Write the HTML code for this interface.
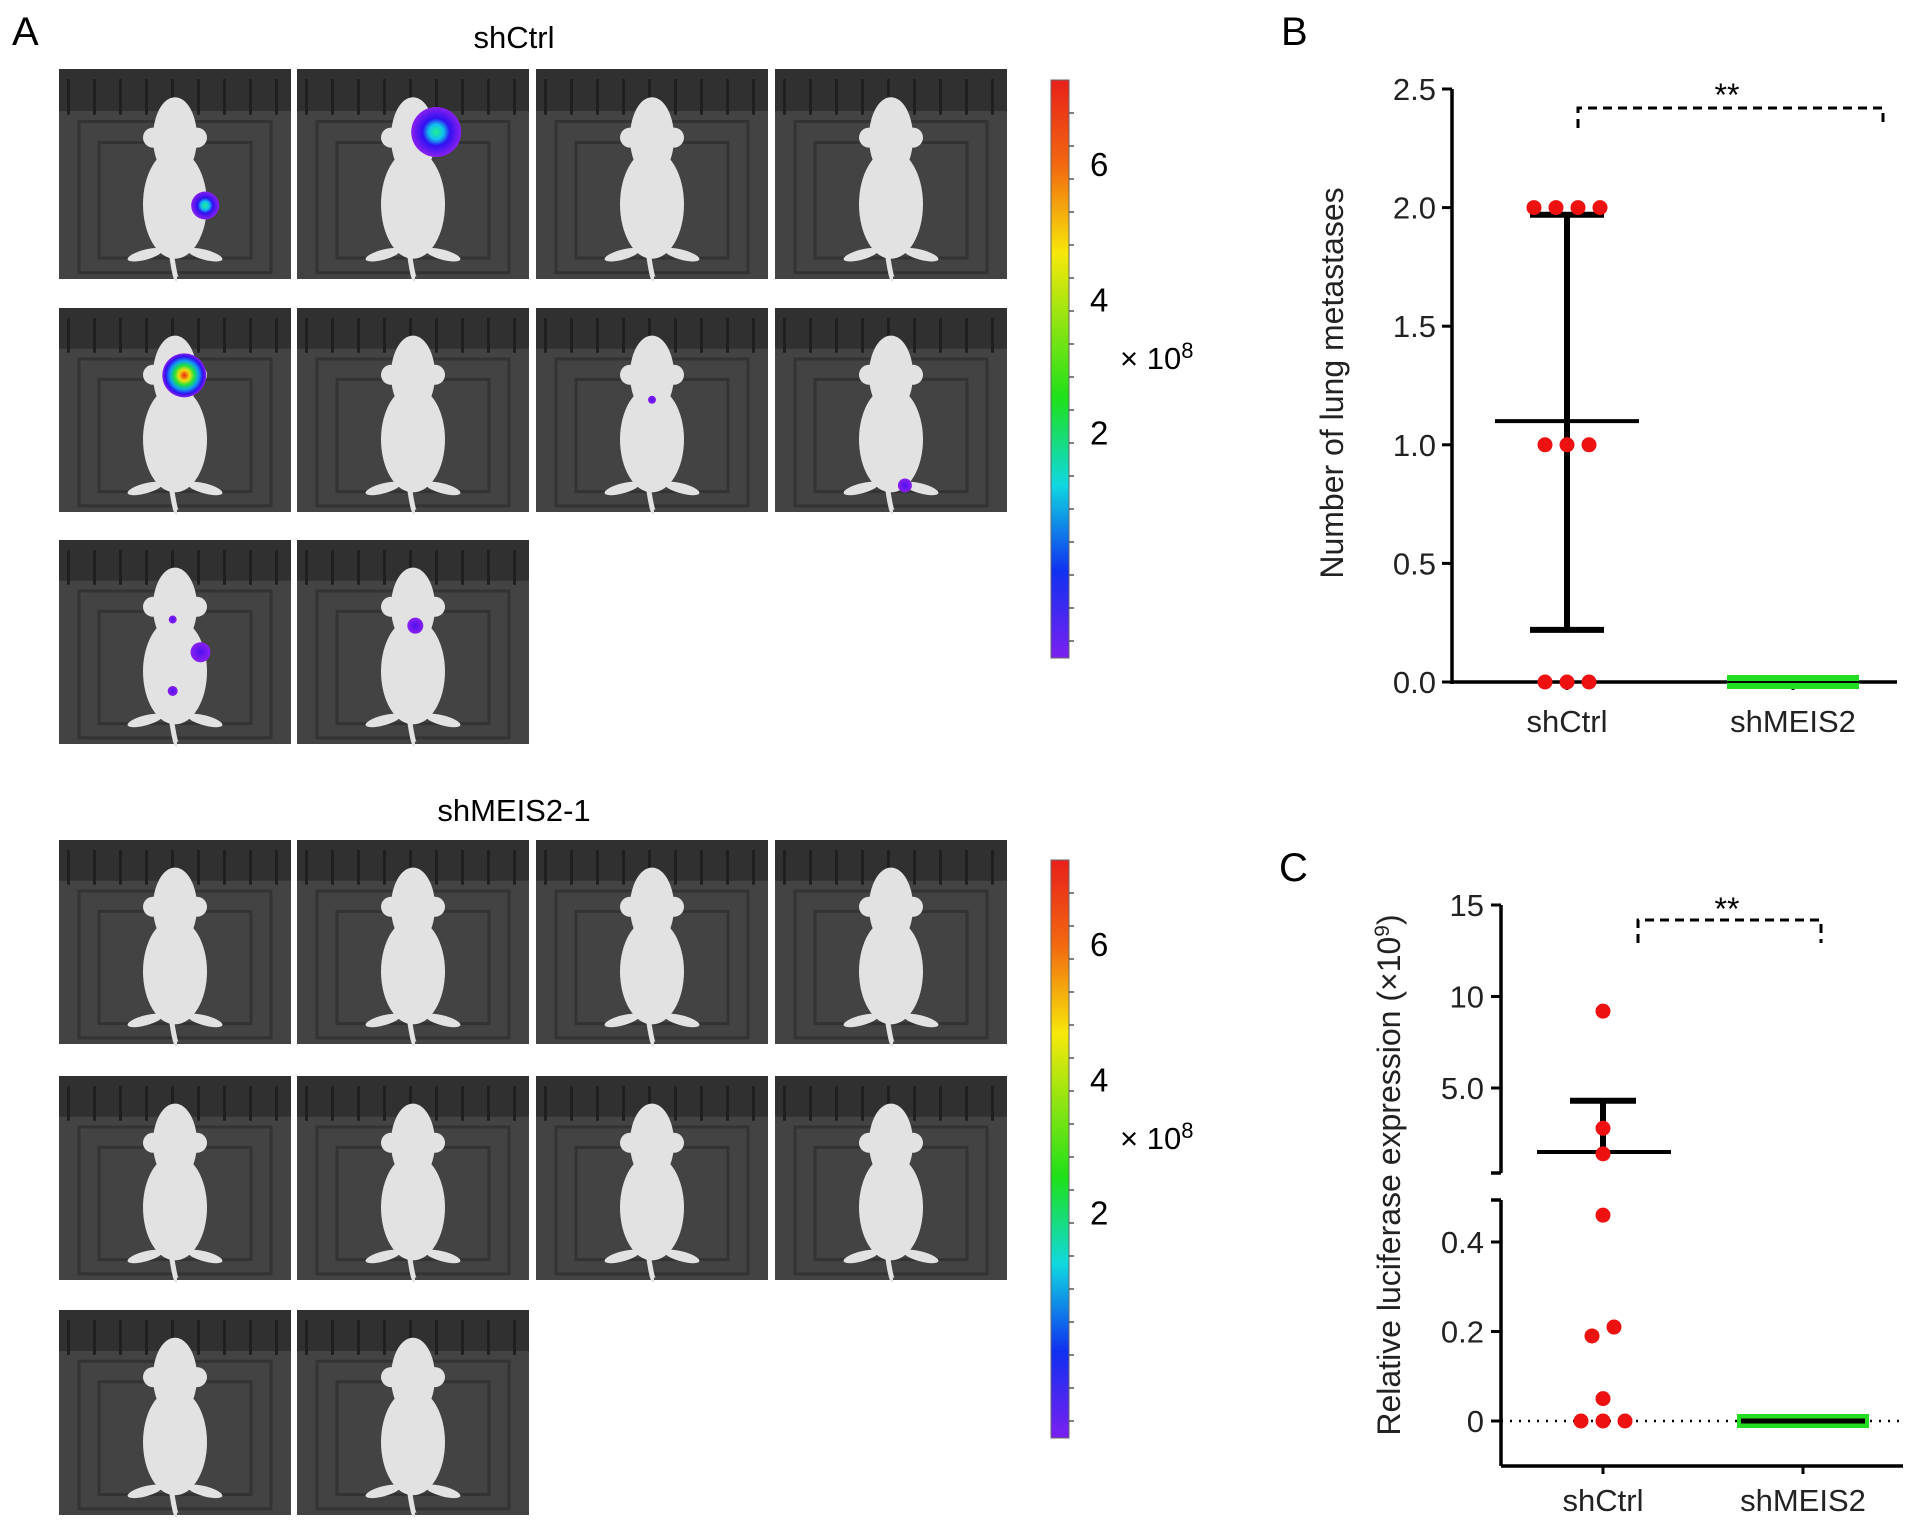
<!DOCTYPE html>
<html><head><meta charset="utf-8"><style>
html,body{margin:0;padding:0;background:#fff;}
svg{display:block;font-family:"Liberation Sans",Arial,sans-serif;}
</style></head><body>
<svg id="fig" width="1913" height="1525" viewBox="0 0 1913 1525" xmlns="http://www.w3.org/2000/svg">
<defs>
<linearGradient id="cbar" x1="0" y1="0" x2="0" y2="1">
<stop offset="0" stop-color="#e8201a"/><stop offset="0.15" stop-color="#f26a10"/><stop offset="0.3" stop-color="#f7e80a"/><stop offset="0.55" stop-color="#1ee01a"/><stop offset="0.7" stop-color="#10d8e0"/><stop offset="0.85" stop-color="#1030f0"/><stop offset="1" stop-color="#7a20f0"/>
</linearGradient>
<radialGradient id="sigA"><stop offset="0" stop-color="#20f090"/><stop offset="0.3" stop-color="#10c0f0"/><stop offset="0.55" stop-color="#3010f0"/><stop offset="1" stop-color="#8a20f0"/></radialGradient>
<radialGradient id="sigB"><stop offset="0" stop-color="#f02010"/><stop offset="0.25" stop-color="#f0e010"/><stop offset="0.45" stop-color="#20e040"/><stop offset="0.65" stop-color="#10a0f0"/><stop offset="0.85" stop-color="#3010f0"/><stop offset="1" stop-color="#8a20f0"/></radialGradient>
<radialGradient id="sigC"><stop offset="0" stop-color="#5010f0"/><stop offset="1" stop-color="#8a20f0"/></radialGradient>
</defs>
<g id="panelA"></g>
<g id="panelB"></g>
<g id="panelC"></g>
</svg>
<script>
// ---------- Panel B data ----------
const bCategories = ["shCtrl", "shMEIS2"];
const bCtrlValues = [2, 2, 2, 2, 1, 1, 1, 0, 0, 0];
const bCtrlOffsets = [-1.5, -0.5, 0.5, 1.5, -1, 0, 1, -1, 0, 1];
const bMeans = [1.1, 0];
const bErrLow = [0.22, 0];
const bErrHigh = [1.97, 0];
const bTicks = [0, 0.5, 1.0, 1.5, 2.0, 2.5];
const bTickLabels = ["0.0", "0.5", "1.0", "1.5", "2.0", "2.5"];
// ---------- Panel C data ----------
const cCategories = ["shCtrl", "shMEIS2"];
const cCtrlValues = [9.2, 2.8, 1.4, 0.46, 0.19, 0.21, 0.05, 0, 0, 0];
const cCtrlOffsets = [0, 0, 0, 0, -0.5, 0.5, 0, -1, 0, 1];
const cMeans = [1.5, 0];
const cSemHigh = [4.3, 0];
const cUpperTicks = [5, 10, 15];
const cUpperTickLabels = ["5.0", "10", "15"];
const cLowerTicks = [0, 0.2, 0.4];
const cLowerTickLabels = ["0", "0.2", "0.4"];

const NS = "http://www.w3.org/2000/svg";
function mk(parent, tag, attrs, text) {
  const e = document.createElementNS(NS, tag);
  for (const k in attrs) e.setAttribute(k, attrs[k]);
  if (text !== undefined) e.textContent = text;
  parent.appendChild(e);
  return e;
}
const TF = 31;

// ================= Panel A =================
const A = document.getElementById("panelA");
let t = mk(A, "text", {x: 12, y: 45, "font-size": 40}, "A");


t = mk(A, "text", {x: 514, y: 48, "font-size": 31, "text-anchor": "middle"}, "shCtrl");


t = mk(A, "text", {x: 514, y: 821, "font-size": 31, "text-anchor": "middle"}, "shMEIS2-1");



const colX = [59, 297, 536, 775];
const pw = 232;
const groups = [
  {rows: [[69, 210], [308, 204], [540, 204]], sig: true},
  {rows: [[840, 204], [1076, 204], [1310, 205]], sig: false}
];
const signals = [[0, 0.63, 0.65, 14, "sigA"], [1, 0.6, 0.3, 25, "sigA"], [4, 0.54, 0.33, 22, "sigB"],
  [6, 0.5, 0.45, 4, "sigC"], [7, 0.56, 0.87, 7, "sigC"], [8, 0.61, 0.55, 10, "sigC"], [8, 0.49, 0.39, 4, "sigC"],
  [8, 0.49, 0.74, 5, "sigC"], [9, 0.51, 0.42, 8, "sigC"]];
function mouse(g, x, y, w, h) {
  const cx = x + w / 2;
  const col = "#e2e2e2";
  mk(g, "path", {d: `M${cx-4} ${y+h*0.86} Q${cx} ${y+h} ${cx+2} ${y+h}`, stroke: col, "stroke-width": 5, fill: "none"});
  mk(g, "ellipse", {cx: cx - 30, cy: y + h * 0.88, rx: 18, ry: 5, fill: col, transform: `rotate(-15 ${cx-30} ${y+h*0.88})`});
  mk(g, "ellipse", {cx: cx + 30, cy: y + h * 0.88, rx: 18, ry: 5, fill: col, transform: `rotate(15 ${cx+30} ${y+h*0.88})`});
  mk(g, "ellipse", {cx: cx, cy: y + h * 0.63, rx: 32, ry: h * 0.27, fill: col});
  mk(g, "ellipse", {cx: cx, cy: y + h * 0.3, rx: 22, ry: h * 0.2, fill: col});
  mk(g, "circle", {cx: cx - 22, cy: y + h * 0.3, r: 10, fill: col});
  mk(g, "circle", {cx: cx + 22, cy: y + h * 0.3, r: 10, fill: col});
}
groups.forEach((grp, gi) => {
  let idx = 0;
  grp.rows.forEach((r, ri) => {
    const ncol = ri === 2 ? 2 : 4;
    for (let c = 0; c < ncol; c++) {
      const x = colX[c], y = r[0], h = r[1];
      const g = mk(A, "g", {});
      
      
      mk(g, "rect", {x: x, y: y, width: pw, height: h, fill: "#434343"});
      mk(g, "rect", {x: x, y: y, width: pw, height: h * 0.2, fill: "#303030"});
      for (let k = 0; k < 9; k++) mk(g, "rect", {x: x + 8 + k * 26, y: y + 10, width: 3, height: h * 0.17, fill: "#1f1f1f"});
      mk(g, "rect", {x: x + 40, y: y + h * 0.35, width: pw - 80, height: h * 0.55, fill: "none", stroke: "#333", "stroke-width": 3});
      mk(g, "rect", {x: x + 20, y: y + h * 0.25, width: pw - 40, height: h * 0.72, fill: "none", stroke: "#333", "stroke-width": 3});
      mouse(g, x, y + 8, pw, h - 8);
      if (grp.sig) {
        signals.filter(s => s[0] === idx).forEach(s => {
          mk(g, "circle", {cx: x + s[1] * pw, cy: y + s[2] * h, r: s[3], fill: `url(#${s[4]})`});
        });
      }
      idx++;
    }
  });
  const cy0 = gi === 0 ? 80 : 860, ch = 578;
  const cb = mk(A, "g", {});
  
  
  mk(cb, "rect", {x: 1051, y: cy0, width: 18, height: ch, fill: "url(#cbar)", stroke: "#666", "stroke-width": 1});
  for (let k = 1; k < 18; k++) mk(cb, "line", {x1: 1069, x2: 1074, y1: cy0 + k * 33, y2: cy0 + k * 33, stroke: "#555", "stroke-width": 1.5});
  [["6", 0.145], ["4", 0.38], ["2", 0.61]].forEach(l => {
    mk(cb, "text", {x: 1090, y: cy0 + l[1] * ch + 12, "font-size": 33}, l[0]);
  });
  const xt = mk(cb, "text", {x: 1120, y: cy0 + 0.5 * ch, "font-size": 31}, "× 10");
  mk(xt, "tspan", {dy: -11, "font-size": 22}, "8");
});

// ================= Panel B =================
const B = document.getElementById("panelB");
t = mk(B, "text", {x: 1281, y: 45, "font-size": 40}, "B");


const bx0 = 1452, bxEnd = 1897, by0 = 682, by1 = 89;
const bCatX = [1567, 1793];
function bY(v) { return by0 - (v / 2.5) * (by0 - by1); }
mk(B, "line", {x1: bx0, x2: bx0, y1: bY(2.5), y2: by0 + 2, stroke: "#000", "stroke-width": 3.5});
mk(B, "line", {x1: bx0, x2: bxEnd, y1: by0, y2: by0, stroke: "#000", "stroke-width": 3.5});
bTicks.forEach((v, i) => {
  mk(B, "line", {x1: bx0 - 10, x2: bx0, y1: bY(v), y2: bY(v), stroke: "#000", "stroke-width": 3});
  const tl = mk(B, "text", {x: bx0 - 16, y: bY(v) + 11, "font-size": TF, "text-anchor": "end", fill: "#222"}, bTickLabels[i]);
  
  
});
bCategories.forEach((c, i) => {
  mk(B, "line", {x1: bCatX[i], x2: bCatX[i], y1: by0, y2: by0 + 8, stroke: "#000", "stroke-width": 3});
  const tl = mk(B, "text", {x: bCatX[i], y: by0 + 50, "font-size": TF, "text-anchor": "middle", fill: "#222"}, c);
  
  
});
t = mk(B, "text", {x: 0, y: 0, "font-size": 32, "text-anchor": "middle", fill: "#222", transform: `translate(1343 383) rotate(-90)`}, "Number of lung metastases");


mk(B, "rect", {x: bCatX[1] - 66, y: bY(bMeans[1]) - 7, width: 132, height: 14, fill: "#22dd22"});
mk(B, "line", {x1: bCatX[1] - 66, x2: bCatX[1] + 66, y1: bY(bMeans[1]), y2: bY(bMeans[1]), stroke: "#000", "stroke-width": 2});
mk(B, "line", {x1: bCatX[0], x2: bCatX[0], y1: bY(bErrLow[0]), y2: bY(bErrHigh[0]), stroke: "#000", "stroke-width": 6});
mk(B, "line", {x1: bCatX[0] - 37, x2: bCatX[0] + 37, y1: bY(bErrLow[0]), y2: bY(bErrLow[0]), stroke: "#000", "stroke-width": 6});
mk(B, "line", {x1: bCatX[0] - 37, x2: bCatX[0] + 37, y1: bY(bErrHigh[0]), y2: bY(bErrHigh[0]), stroke: "#000", "stroke-width": 6});
let ml = mk(B, "line", {x1: bCatX[0] - 72, x2: bCatX[0] + 72, y1: bY(bMeans[0]), y2: bY(bMeans[0]), stroke: "#000", "stroke-width": 4});


bCtrlValues.forEach((v, i) => {
  const d = mk(B, "circle", {cx: bCatX[0] + bCtrlOffsets[i] * 22, cy: bY(v), r: 7.5, fill: "#ee1111"});
  
  
});
const brB = mk(B, "path", {d: `M${bCatX[0]+11} 128 V108 H1883 V128`, fill: "none", stroke: "#000", "stroke-width": 3, "stroke-dasharray": "9 6"});


mk(B, "text", {x: 1727, y: 106, "font-size": 32, "text-anchor": "middle"}, "**");

// ================= Panel C =================
const C = document.getElementById("panelC");
t = mk(C, "text", {x: 1279, y: 881, "font-size": 40}, "C");


const cx0 = 1501, cxEnd = 1903, cBottom = 1466;
const cCatX = [1603, 1803];
function cY(v) {
  if (v <= 0.5) return 1421 - v * (1421 - 1242) / 0.4;
  return 1088 - (v - 5) * (1088 - 905) / 10;
}
mk(C, "line", {x1: cx0, x2: cx0, y1: 905, y2: 1173, stroke: "#000", "stroke-width": 3.5});
mk(C, "line", {x1: cx0 - 10, x2: cx0, y1: 1173, y2: 1173, stroke: "#000", "stroke-width": 3.5});
mk(C, "line", {x1: cx0, x2: cx0, y1: 1200, y2: cBottom, stroke: "#000", "stroke-width": 3.5});
mk(C, "line", {x1: cx0 - 10, x2: cx0, y1: 1200, y2: 1200, stroke: "#000", "stroke-width": 3.5});
mk(C, "line", {x1: cx0, x2: cxEnd, y1: cBottom, y2: cBottom, stroke: "#000", "stroke-width": 3.5});
mk(C, "line", {x1: cx0, x2: cxEnd, y1: cY(0), y2: cY(0), stroke: "#000", "stroke-width": 2.5, "stroke-dasharray": "2 7"});
cUpperTicks.forEach((v, i) => {
  mk(C, "line", {x1: cx0 - 10, x2: cx0, y1: cY(v), y2: cY(v), stroke: "#000", "stroke-width": 3});
  const tl = mk(C, "text", {x: cx0 - 17, y: cY(v) + 11, "font-size": TF, "text-anchor": "end", fill: "#222"}, cUpperTickLabels[i]);
  
  
});
cLowerTicks.forEach((v, i) => {
  mk(C, "line", {x1: cx0 - 10, x2: cx0, y1: cY(v), y2: cY(v), stroke: "#000", "stroke-width": 3});
  const tl = mk(C, "text", {x: cx0 - 17, y: cY(v) + 11, "font-size": TF, "text-anchor": "end", fill: "#222"}, cLowerTickLabels[i]);
  
  
});
cCategories.forEach((c, i) => {
  mk(C, "line", {x1: cCatX[i], x2: cCatX[i], y1: cBottom, y2: cBottom + 8, stroke: "#000", "stroke-width": 3});
  const tl = mk(C, "text", {x: cCatX[i], y: cBottom + 45, "font-size": TF, "text-anchor": "middle", fill: "#222"}, c);
  
  
});
t = mk(C, "text", {x: 0, y: 0, "font-size": 32, "text-anchor": "middle", fill: "#222", transform: `translate(1400 1175) rotate(-90)`}, "Relative luciferase expression (×10");


mk(t, "tspan", {dy: -11, "font-size": 21}, "9");
mk(t, "tspan", {dy: 11}, ")");
mk(C, "rect", {x: cCatX[1] - 66, y: cY(cMeans[1]) - 7, width: 132, height: 14, fill: "#22dd22"});
mk(C, "line", {x1: cCatX[1] - 62, x2: cCatX[1] + 62, y1: cY(cMeans[1]), y2: cY(cMeans[1]), stroke: "#000", "stroke-width": 5});
mk(C, "line", {x1: cCatX[0], x2: cCatX[0], y1: cY(cMeans[0]), y2: cY(cSemHigh[0]), stroke: "#000", "stroke-width": 6});
mk(C, "line", {x1: cCatX[0] - 33, x2: cCatX[0] + 33, y1: cY(cSemHigh[0]), y2: cY(cSemHigh[0]), stroke: "#000", "stroke-width": 6});
ml = mk(C, "line", {x1: cCatX[0] - 66, x2: cCatX[0] + 68, y1: cY(cMeans[0]), y2: cY(cMeans[0]), stroke: "#000", "stroke-width": 4});


cCtrlValues.forEach((v, i) => {
  const d = mk(C, "circle", {cx: cCatX[0] + cCtrlOffsets[i] * 22, cy: cY(v), r: 7.5, fill: "#ee1111"});
  
  
});
const brC = mk(C, "path", {d: `M1638 943 V920 H1821 V943`, fill: "none", stroke: "#000", "stroke-width": 3, "stroke-dasharray": "9 6"});


mk(C, "text", {x: 1727, y: 920, "font-size": 32, "text-anchor": "middle"}, "**");
</script>
</body></html>
